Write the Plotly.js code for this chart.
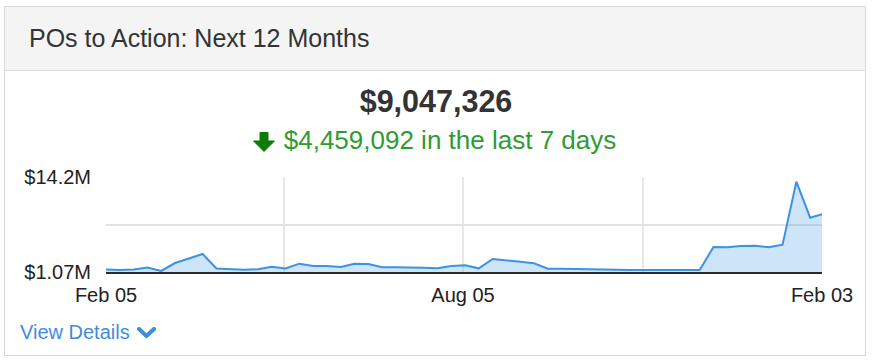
<!DOCTYPE html>
<html>
<head>
<meta charset="utf-8">
<script src="https://cdn.plot.ly/plotly-3.0.1.min.js"></script>
<style>
  html, body { margin: 0; padding: 0; background: #fff; }
  body { width: 872px; height: 362px; position: relative; overflow: hidden;
         font-family: "Liberation Sans", Arial, sans-serif; }
  .card { position: absolute; left: 4px; top: 6px; width: 860px; height: 348px;
          border: 1px solid #d9d9d9; background: #fff; }
  .head { position: absolute; left: 5px; top: 7px; width: 860px; height: 63px;
          background: #f4f4f4; border-bottom: 1px solid #dcdcdc; }
  .t { position: absolute; white-space: nowrap; line-height: 1; }
  #title { left: 29px; top: 25.6px; font-size: 25px; color: #333; }
  #big { left: 0; width: 872px; text-align: center; top: 86.4px; font-size: 30.5px;
         font-weight: bold; color: #333; }
  #chg { left: 0; width: 869px; text-align: center; top: 127px; font-size: 26px; color: #2e9b33; }
  #chg svg { vertical-align: -3px; margin-right: 9px; }
  #view { left: 20px; top: 321.5px; font-size: 20px; color: #3c8ddc; }
  #view svg { vertical-align: 0px; margin-left: 7px; }
  #chart { position: absolute; left: 0; top: 0; width: 872px; height: 362px; }
</style>
</head>
<body>
<div class="card"></div>
<div class="head"></div>
<div class="t" id="title"></div>
<div class="t" id="big"></div>
<div class="t" id="chg"></div>
<div class="t" id="view"></div>
<div id="chart"></div>
<script>
// ---- data ----
const cardTitle = "POs to Action: Next 12 Months";
const currentTotal = "$9,047,326";
const changeText = "$4,459,092 in the last 7 days";
const linkText = "View Details";

const weekDates = [
  "2017-02-05","2017-02-12","2017-02-19","2017-02-26","2017-03-05","2017-03-12","2017-03-19","2017-03-26",
  "2017-04-02","2017-04-09","2017-04-16","2017-04-23","2017-04-30","2017-05-07","2017-05-14","2017-05-21",
  "2017-05-28","2017-06-04","2017-06-11","2017-06-18","2017-06-25","2017-07-02","2017-07-09","2017-07-16",
  "2017-07-23","2017-07-30","2017-08-06","2017-08-13","2017-08-20","2017-08-27","2017-09-03","2017-09-10",
  "2017-09-17","2017-09-24","2017-10-01","2017-10-08","2017-10-15","2017-10-22","2017-10-29","2017-11-05",
  "2017-11-12","2017-11-19","2017-11-26","2017-12-03","2017-12-10","2017-12-17","2017-12-24","2017-12-31",
  "2018-01-07","2018-01-14","2018-01-21","2018-01-28","2018-02-03"
];
// values in $ millions
const poValues = [
  1.42,1.35,1.42,1.69,1.21,2.31,2.94,3.56,
  1.55,1.44,1.39,1.44,1.80,1.55,2.22,1.90,
  1.90,1.76,2.22,2.18,1.72,1.72,1.72,1.66,
  1.58,1.90,2.00,1.58,2.87,2.63,2.49,2.27,
  1.53,1.53,1.48,1.39,1.35,1.39,1.35,1.31,
  1.35,1.35,1.35,1.35,4.53,4.48,4.66,4.70,
  4.48,4.84,13.55,8.57,9.05
];
const xTickVals = ["2017-02-05","2017-05-06","2017-08-05","2017-11-04","2018-02-03"];
const xTickText = ["Feb 05","","Aug 05","","Feb 03"];
const yTickVals = [1.07, 7.635, 14.2];
const yTickText = ["$1.07M","","$14.2M"];

// ---- text ----
document.getElementById('title').textContent = cardTitle;
document.getElementById('big').textContent = currentTotal;
const chg = document.getElementById('chg');
chg.innerHTML = '<svg width="22" height="20" viewBox="0 0 22 20"><path d="M7 0.5 H15 V9 H21.5 L11 19.5 L0.5 9 H7 Z" fill="#0a7d0a" stroke="#0a7d0a" stroke-width="1" stroke-linejoin="round"/></svg>';
chg.appendChild(document.createTextNode(changeText));
const view = document.getElementById('view');
view.appendChild(document.createTextNode(linkText));
view.insertAdjacentHTML('beforeend','<svg width="19" height="12" viewBox="0 0 19 12"><path d="M2 2 L9.5 9 L17 2" fill="none" stroke="#3c8ddc" stroke-width="4" stroke-linecap="round" stroke-linejoin="round"/></svg>');

// ---- chart ----
const trace = {
  x: weekDates, y: poValues, type: 'scatter', mode: 'lines',
  fill: 'tozeroy', fillcolor: 'rgba(58,147,228,0.25)',
  line: { color: '#3a93e4', width: 2 },
  hoverinfo: 'skip'
};
const layout = {
  width: 872, height: 362,
  margin: { l: 106, r: 50, t: 177, b: 90 },
  paper_bgcolor: 'rgba(0,0,0,0)', plot_bgcolor: 'rgba(0,0,0,0)',
  showlegend: false,
  font: { family: '"Liberation Sans", Arial, sans-serif', size: 20, color: '#222' },
  xaxis: {
    type: 'date', range: ['2017-02-05', '2018-02-03'],
    tickmode: 'array', tickvals: xTickVals, ticktext: xTickText,
    showgrid: true, gridcolor: '#e8e8e8', gridwidth: 2,
    showline: true, linecolor: '#2a2a2a', linewidth: 2,
    ticks: '', ticklabelstandoff: 4, zeroline: false,
    tickfont: { size: 20, color: '#222' }, fixedrange: true
  },
  yaxis: {
    range: [1.07, 14.2],
    tickmode: 'array', tickvals: yTickVals, ticktext: yTickText,
    showgrid: true, gridcolor: '#e2e2e2', gridwidth: 2,
    showline: false, zeroline: false, ticks: '', ticklabelstandoff: 14,
    tickfont: { size: 20, color: '#222' }, fixedrange: true
  }
};
Plotly.newPlot('chart', [trace], layout, { staticPlot: true, displayModeBar: false });
</script>
</body>
</html>
